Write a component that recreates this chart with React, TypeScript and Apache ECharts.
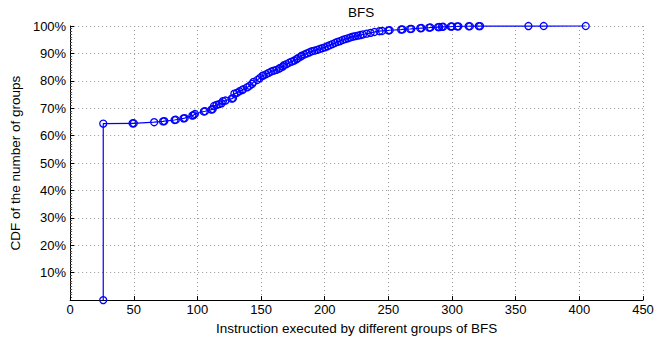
import React, { useEffect, useRef } from "react";
import * as echarts from "echarts";

const titleText = "BFS";
const xAxisTitle = "Instruction executed by different groups of BFS";
const yAxisTitle = "CDF of the number of groups";

// Instructions executed (x) and cumulative share of groups in % (y)
const instructions = [
  26, 26, 49, 50, 66, 73, 74, 82, 83, 89, 90, 96, 97, 98, 105, 106, 111, 112, 113, 115, 117,
  119, 120, 122, 127, 128, 129, 131, 133, 135, 136, 139, 141, 143, 144, 147, 149, 151, 152,
  154, 156, 158, 160, 162, 164, 165, 167, 168, 170, 172, 174, 176, 178, 179, 181, 182, 184,
  186, 188, 190, 192, 194, 196, 198, 200, 202, 204, 206, 208, 210, 212, 214, 216, 218, 220,
  222, 224, 226, 228, 230, 233, 236, 239, 243, 245, 250, 251, 260, 261, 267, 268, 275, 276,
  282, 283, 289, 290, 292, 293, 299, 300, 304, 305, 313, 314, 321, 322, 360, 372, 405,
];
const cdfPercent = [
  0, 64.4, 64.5, 64.5, 64.9, 65.2, 65.3, 65.7, 65.8, 66.3, 66.4, 67.3, 67.5, 67.9, 68.8, 68.9,
  69.5, 69.7, 70.8, 71.2, 71.5, 71.8, 72.6, 72.8, 73.5, 73.7, 75.3, 75.6, 76.2, 76.6, 76.9,
  77.6, 78.2, 78.9, 79.6, 80.3, 81.0, 81.8, 82.0, 82.4, 82.9, 83.4, 83.7, 84.0, 84.4, 84.7,
  85.2, 85.7, 86.1, 86.6, 87.0, 87.4, 87.9, 88.3, 88.8, 89.2, 89.6, 90.0, 90.4, 90.8, 91.0,
  91.3, 91.6, 91.9, 92.2, 92.6, 93.0, 93.4, 93.8, 94.2, 94.5, 94.9, 95.2, 95.5, 95.8, 96.1,
  96.3, 96.5, 96.7, 96.9, 97.2, 97.5, 97.8, 98.1, 98.2, 98.4, 98.45, 98.7, 98.75, 98.9,
  98.95, 99.2, 99.25, 99.4, 99.45, 99.6, 99.62, 99.7, 99.72, 99.8, 99.82, 99.85, 99.87, 99.9,
  99.92, 99.95, 99.96, 99.98, 99.99, 100,
];

const FONT = "Liberation Sans, Arial, Helvetica, sans-serif";

export default function App() {
  const ref = useRef<HTMLDivElement>(null);
  useEffect(() => {
    if (!ref.current) return;
    const chart = echarts.init(ref.current, undefined, { renderer: "svg" });
    const data = instructions.map((x, i) => [x, cdfPercent[i] / 100]);
    chart.setOption({
      animation: false,
      backgroundColor: "#ffffff",
      textStyle: { fontFamily: FONT },
      title: {
        text: titleText,
        left: 356,
        textAlign: "center",
        top: 0,
        textStyle: { fontFamily: FONT, fontSize: 13.5, fontWeight: "normal", color: "#000" },
      },
      grid: { left: 69, right: 22, top: 26, bottom: 32, containLabel: false },
      xAxis: {
        type: "value",
        min: 0,
        max: 450,
        interval: 50,
        name: xAxisTitle,
        nameLocation: "middle",
        nameGap: 18,
        nameTextStyle: { fontFamily: FONT, fontSize: 13.5, color: "#000" },
        axisLine: { show: true, onZero: false, lineStyle: { color: "#000", width: 1 } },
        axisTick: { show: true, inside: true, length: 4, lineStyle: { color: "#000" } },
        axisLabel: { fontFamily: FONT, fontSize: 13, color: "#000", margin: 3 },
        splitLine: { show: true, lineStyle: { color: "#999999", type: [1, 3], width: 1 } },
      },
      yAxis: {
        type: "value",
        min: 0,
        max: 1,
        interval: 0.1,
        name: yAxisTitle,
        nameLocation: "middle",
        nameGap: 36,
        nameTextStyle: { fontFamily: FONT, fontSize: 13.5, color: "#000" },
        axisLine: { show: true, onZero: false, lineStyle: { color: "#000", width: 1 } },
        axisTick: { show: true, inside: true, length: 4, lineStyle: { color: "#000" } },
        minorTick: { show: true, splitNumber: 10, length: 2, lineStyle: { color: "#555" } },
        axisLabel: {
          fontFamily: FONT,
          fontSize: 13,
          color: "#000",
          margin: 4,
          formatter: (v: number) => (v === 0 ? "" : `${Math.round(v * 100)}%`),
        },
        splitLine: { show: true, lineStyle: { color: "#999999", type: [1, 3], width: 1 } },
      },
      series: [
        {
          type: "line",
          data,
          symbol: "circle",
          symbolSize: 7,
          showAllSymbol: true,
          itemStyle: { color: "rgba(0,0,0,0)", borderColor: "#0000ff", borderWidth: 1.3 },
          lineStyle: { color: "#0000ff", width: 1.2 },
          clip: false,
        },
      ],
    });
    return () => chart.dispose();
  }, []);
  return <div ref={ref} style={{ width: 665, height: 340, position: "absolute", left: 0, top: 0 }} />;
}
